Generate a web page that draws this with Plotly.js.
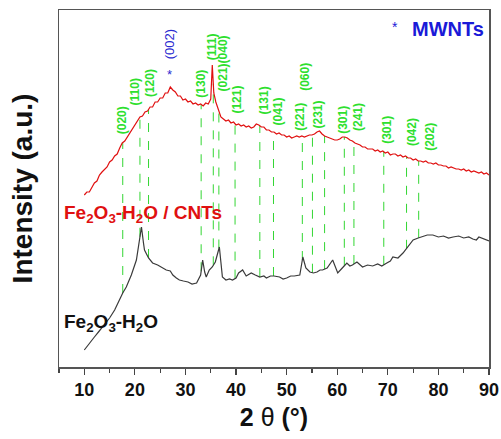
<!DOCTYPE html>
<html>
<head>
<meta charset="utf-8">
<script src="https://cdn.plot.ly/plotly-3.0.1.min.js"></script>
<style>html,body{margin:0;padding:0;background:#fff;}#chart{width:501px;height:439px;}</style>
</head>
<body>
<div id="chart"></div>
<script>
// Fe2O3-H2O / CNTs (red) - 2theta and intensity (a.u.)
const redX = [10,10.5,11,11.5,12,12.5,13,13.5,14,14.5,15,15.5,16,16.5,17,17.5,18,18.5,19,19.5,20,20.5,21,21.5,22,22.5,23,23.5,24,24.5,25,25.5,26,26.5,27,27.5,28,28.5,29,29.5,30,30.5,31,31.5,32,32.5,33,33.5,34,34.5,35,35.3,35.6,36,36.5,37,37.5,38,38.5,39,39.5,40,40.5,41,41.5,42,42.5,43,43.5,44,44.5,45,45.5,46,46.5,47,47.5,48,48.5,49,49.5,50,50.5,51,51.5,52,52.5,53,53.5,54,54.5,55,55.5,56,56.5,57,57.5,58,58.5,59,59.5,60,60.5,61,61.5,62,62.5,63,63.5,64,64.5,65,65.5,66,66.5,67,67.5,68,68.5,69,69.5,70,70.5,71,71.5,72,72.5,73,73.5,74,74.5,75,75.5,76,76.5,77,77.5,78,78.5,79,79.5,80,80.5,81,81.5,82,82.5,83,83.5,84,84.5,85,85.5,86,86.5,87,87.5,88,88.5,89,89.5,90];
const redY = [172,175,175,180,184,186,192,195,198,200,205,207,211,213,219,224,226,230,234,238,241,246,250,251,255,256,260,260,265,265,269,269,274,274,280,277,275,271,271,267,268,265,266,263,264,262,263,261,264,263,268,302,274,265,258,250,248,246,247,244,245,242,243,241,242,240,241,239,240,243,242,240,240,237,237,235,235,233,234,232,232,230,231,229,230,231,230,231,230,231,232,232,233,235,236,233,231,230,229,228,227,227,228,230,230,229,227,226,224,223,222,220,220,218,218,218,216,217,215,216,214,215,212,213,213,211,212,210,211,209,209,207,208,206,206,205,206,204,204,203,204,202,202,201,201,199,200,199,198,198,197,198,196,197,195,196,195,194,195,193,194,192];
// Fe2O3-H2O (black)
const blackX = [10,11,12,12.8,13.6,14.3,15,16,16.9,17.6,18.3,19.3,20.3,20.9,21.3,21.7,21.9,22.7,23.5,24.5,25.3,26.2,27,27.5,28.2,28.8,29.6,30.5,31.3,32.2,33,33.4,33.8,34.1,34.7,35.3,35.9,36.5,36.7,37,37.3,38,38.7,39.3,40,40.5,41.3,42,43,43.8,44.7,45.5,46,46.8,47.5,48.6,49.3,50,50.8,51.5,52.6,53.2,53.8,54.6,55.3,56,56.6,57.1,58,59.1,60.1,61,61.9,62.5,63,63.9,65,66,67,68,68.8,69.8,70.5,71,72,73,74,75,76,77,77.8,78.9,80,81,82,82.9,84,85,86,86.8,87.5,88,89,90];
const blackY = [17,24,30,35,40,44,49,57,67,74,80,92,107,127,140,124,117,109,104,102,100,97,96,92,89,87,86,85,83,84,92,107,95,90,97,100,105,117,120,105,90,87,88,87,89,94,97,91,94,92,90,91,89,91,91,90,88,89,91,91,92,110,99,95,94,95,97,97,99,107,94,99,104,101,102,105,100,102,101,103,101,104,106,110,109,114,120,127,129,131,132,132,130,131,129,130,131,129,130,128,127,130,128,126];
// Diffraction line positions and labels
const peakPos = [17.6,21.0,22.7,33.1,35.5,36.6,39.8,44.7,47.4,53.1,55.1,57.5,61.4,63.3,69.2,73.7,76.1];
const peakLabels = ["(020)","(110)","(120)","(130)","(111)","(021)(040)","(121)","(131)","(041)","(221)","(060)","(231)","(301)","(241)","(301)","(042)","(202)"];
const labelX = [17.5,20.1,23.0,33.0,35.3,37.5,40.1,45.6,48.2,52.6,53.6,56.1,61.1,64.1,69.8,74.8,78.3];
const labelY = [247,275,284,283,320,304,267,267,255,250,290,252,247,250,237,235,230];

function interp(xs, ys, x){
  for(let i=0;i<xs.length-1;i++){
    if(x>=xs[i] && x<=xs[i+1]){
      const t=(x-xs[i])/(xs[i+1]-xs[i]);
      return ys[i]+t*(ys[i+1]-ys[i]);
    }
  }
  return ys[ys.length-1];
}

const gx=[], gy=[];
peakPos.forEach(p=>{
  gx.push(p,p,null);
  gy.push(interp(blackX,blackY,p), interp(redX,redY,p), null);
});

const FONT = "Liberation Sans, Arial, sans-serif";
const traces = [
  {x:gx, y:gy, mode:'lines', line:{color:'#33d633', width:1, dash:'dash'}, hoverinfo:'skip'},
  {x:blackX, y:blackY, mode:'lines', line:{color:'#3a3a3a', width:1.2}},
  {x:redX, y:redY, mode:'lines', line:{color:'#e01010', width:1.2}}
];

const annotations = peakLabels.map((t,i)=>({
  x:labelX[i], y:labelY[i], text:'<b>'+t+'</b>', textangle:-90, showarrow:false,
  xanchor:'center', yanchor:'middle', font:{family:FONT, size:12, color:'#2ee02e'}
}));
annotations.push(
  {x:26.8, y:323, text:'(002)', textangle:-90, showarrow:false, xanchor:'center', yanchor:'middle', font:{family:FONT, size:13, color:'#2a2ad0'}},
  {x:26.8, y:293, text:'*', showarrow:false, xanchor:'center', yanchor:'middle', font:{family:FONT, size:13, color:'#2a2ad0'}},
  {x:71.4, y:340, text:'*', showarrow:false, xanchor:'center', yanchor:'middle', font:{family:FONT, size:14, color:'#1a1ad8'}},
  {x:81.8, y:338, text:'<b>MWNTs</b>', showarrow:false, xanchor:'center', yanchor:'middle', font:{family:FONT, size:20, color:'#1a1ad8'}},
  {x:5.6, y:153, text:'<b>Fe<sub>2</sub>O<sub>3</sub>-H<sub>2</sub>O / CNTs</b>', showarrow:false, xanchor:'left', yanchor:'middle', font:{family:FONT, size:19, color:'#e01010'}},
  {x:5.6, y:44, text:'<b>Fe<sub>2</sub>O<sub>3</sub>-H<sub>2</sub>O</b>', showarrow:false, xanchor:'left', yanchor:'middle', font:{family:FONT, size:19, color:'#111'}}
);

const layout = {
  width:501, height:439,
  margin:{l:59, r:12, t:10, b:72},
  paper_bgcolor:'#fff', plot_bgcolor:'#fff',
  showlegend:false,
  xaxis:{
    range:[5,90], tick0:10, dtick:10, ticks:'outside', ticklen:6, tickwidth:1.2, tickcolor:'#444',
    minor:{dtick:5, tick0:5, ticks:'outside', ticklen:4, tickcolor:'#444'},
    showline:true, linecolor:'#555', linewidth:1.5, mirror:true, showgrid:false, zeroline:false,
    tickfont:{family:FONT, size:18, color:'#111', weight:'bold'},
    title:{text:'<b>2</b> θ <b>(°)</b>', font:{family:FONT, size:25, color:'#111'}, standoff:9}
  },
  yaxis:{
    range:[0,357], showticklabels:false, ticks:'', showline:true, linecolor:'#555', linewidth:1.5, mirror:true,
    showgrid:false, zeroline:false,
    title:{text:'<b>Intensity (a.u.)</b>', font:{family:FONT, size:28, color:'#111'}, standoff:16}
  },
  annotations:annotations
};

Plotly.newPlot('chart', traces, layout, {displayModeBar:false, staticPlot:true});
</script>
</body>
</html>
